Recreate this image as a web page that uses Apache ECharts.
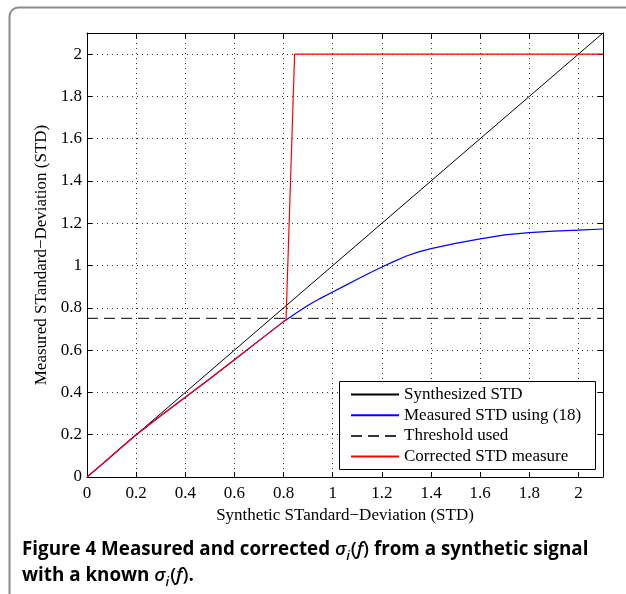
<!DOCTYPE html>
<html>
<head>
<meta charset="utf-8">
<script src="https://cdn.jsdelivr.net/npm/echarts@6/dist/echarts.min.js"></script>
<style>
  html, body { margin: 0; padding: 0; background: #fff; }
  #chart { width: 626px; height: 594px; }
</style>
</head>
<body>
<div id="chart"></div>
<script>
// Synthetic STD values (x) and the corresponding estimates
const synthX = [0, 2.1];
const synthY = [0, 2.1];

const measuredX = [0, 0.05, 0.1, 0.15, 0.2, 0.3, 0.4, 0.5, 0.6, 0.7, 0.8, 0.81,
                   0.85, 0.9, 0.95, 1.0, 1.05, 1.1, 1.15, 1.2, 1.25, 1.3, 1.35, 1.4,
                   1.5, 1.6, 1.7, 1.8, 1.9, 2.0, 2.1];
const measuredY = [0, 0.049, 0.099, 0.15, 0.2, 0.29, 0.377, 0.465, 0.555, 0.645, 0.735, 0.743,
                   0.775, 0.812, 0.845, 0.875, 0.905, 0.935, 0.965, 0.993, 1.02, 1.045, 1.065, 1.08,
                   1.105, 1.126, 1.145, 1.156, 1.163, 1.168, 1.173];

const thresholdValue = 0.75;

const correctedX = [0, 0.05, 0.1, 0.15, 0.2, 0.3, 0.4, 0.5, 0.6, 0.7, 0.8, 0.81, 0.845, 2.1];
const correctedY = [0, 0.049, 0.099, 0.15, 0.2, 0.29, 0.377, 0.465, 0.555, 0.645, 0.735, 0.743, 2.0, 2.0];

const seriesNames = ['Synthesized STD', 'Measured STD using (18)', 'Threshold used', 'Corrected STD measure'];
const axisMin = 0, axisMax = 2.1, axisStep = 0.2;

const zip = (xs, ys) => xs.map((x, i) => [x, ys[i]]);

const serif = 'Liberation Serif';
const tickFmt = v => (Math.abs(v - axisMax) < 1e-9 ? '' : String(Math.round(v * 10) / 10));

const grid = { left: 87, top: 33, right: 23, bottom: 117 };
const gridLine = { show: true, lineStyle: { color: '#333', type: [1, 4], width: 1 } };

const mainX = {
  type: 'value', min: axisMin, max: axisMax, interval: axisStep,
  name: 'Synthetic STandard\u2212Deviation (STD)', nameLocation: 'middle', nameGap: 24,
  nameTextStyle: { fontFamily: serif, fontSize: 17, color: '#000' },
  axisLine: { show: true, lineStyle: { color: '#000', width: 1 } },
  axisTick: { show: true, inside: true, length: 5, lineStyle: { color: '#000' } },
  axisLabel: { fontFamily: serif, fontSize: 17, color: '#000', margin: 8, formatter: tickFmt },
  splitLine: gridLine
};
const mainY = {
  type: 'value', min: axisMin, max: axisMax, interval: axisStep,
  name: 'Measured STandard\u2212Deviation (STD)', nameLocation: 'middle', nameGap: 28,
  nameTextStyle: { fontFamily: serif, fontSize: 17, color: '#000' },
  axisLine: { show: true, lineStyle: { color: '#000', width: 1 } },
  axisTick: { show: true, inside: true, length: 5, lineStyle: { color: '#000' } },
  axisLabel: { fontFamily: serif, fontSize: 17, color: '#000', margin: 5, formatter: tickFmt },
  splitLine: gridLine
};
const mirror = (pos) => ({
  type: 'value', min: axisMin, max: axisMax, interval: axisStep, position: pos,
  axisLine: { show: true, onZero: false, lineStyle: { color: '#000', width: 1 } },
  axisTick: { show: true, inside: true, length: 5, lineStyle: { color: '#000' } },
  axisLabel: { show: false }, splitLine: { show: false }
});

const chart = echarts.init(document.getElementById('chart'), null, { renderer: 'canvas' });

const capFont = 'Open Sans';
chart.setOption({
  animation: false,
  backgroundColor: '#fff',
  grid: grid,
  xAxis: [mainX, mirror('top')],
  yAxis: [mainY, mirror('right')],
  legend: {
    left: 339, top: 381, orient: 'vertical', z: 20,
    padding: [5, 10, 5, 11],
    itemWidth: 48, itemHeight: 14, itemGap: 3.7,
    itemStyle: { opacity: 0 },
    textStyle: { fontFamily: serif, fontSize: 17, color: '#000' },
    data: seriesNames
  },
  graphic: [
    // outer figure frame
    { type: 'rect', left: 7, top: 5, z: -10, silent: true,
      shape: { width: 700, height: 700, r: 9 },
      style: { fill: 'none', stroke: '#8c8c8c', lineWidth: 2 } },
    // legend box, drawn over the curves and under the legend entries
    { type: 'rect', left: 339, top: 381, z: 10, silent: true,
      shape: { width: 256, height: 88 },
      style: { fill: '#fff', stroke: '#000', lineWidth: 1 } },
    // caption
    { type: 'text', left: 22, top: 540, z: 100,
      style: {
        text: '{b|Figure 4 }{m|Measured and corrected }{i|\u03c3}{s|i}{p|(}{i|f}{p|)}{m| from a synthetic signal}\n' +
              '{m|with a known }{i|\u03c3}{s|i}{p|(}{i|f}{p|)}{m|.}',
        rich: {
          b: { fontFamily: capFont, fontWeight: 'bold', fontSize: 18.8, lineHeight: 26, fill: '#000' },
          m: { fontFamily: capFont, fontWeight: 'bold', fontSize: 18.8, lineHeight: 26, fill: '#000' },
          p: { fontFamily: capFont, fontWeight: 600, fontSize: 18.8, lineHeight: 26, fill: '#000' },
          i: { fontFamily: capFont, fontStyle: 'italic', fontWeight: 600, fontSize: 18.8, lineHeight: 26, fill: '#000' },
          s: { fontFamily: capFont, fontStyle: 'italic', fontWeight: 600, fontSize: 13, lineHeight: 13,
               verticalAlign: 'bottom', padding: [0, 1, 0, 0], fill: '#000' }
        }
      } }
  ],
  series: [
    { name: seriesNames[0], type: 'line', data: zip(synthX, synthY), showSymbol: false, symbol: 'none', z: 3,
      lineStyle: { color: '#000', width: 1 }, itemStyle: { color: '#000' } },
    { name: seriesNames[1], type: 'line', data: zip(measuredX, measuredY),
      showSymbol: false, symbol: 'none', z: 4,
      lineStyle: { color: '#0000ff', width: 1.2 }, itemStyle: { color: '#0000ff' } },
    { name: seriesNames[2], type: 'line', data: [[axisMin, thresholdValue], [axisMax, thresholdValue]],
      showSymbol: false, symbol: 'none', z: 2,
      lineStyle: { color: '#333', width: 1.2, type: [11, 6] }, itemStyle: { color: '#333' } },
    { name: seriesNames[3], type: 'line', data: zip(correctedX, correctedY),
      showSymbol: false, symbol: 'none', z: 5,
      lineStyle: { color: '#ff0000', width: 1.2 }, itemStyle: { color: '#ff0000' } }
  ]
});
</script>
</body>
</html>
